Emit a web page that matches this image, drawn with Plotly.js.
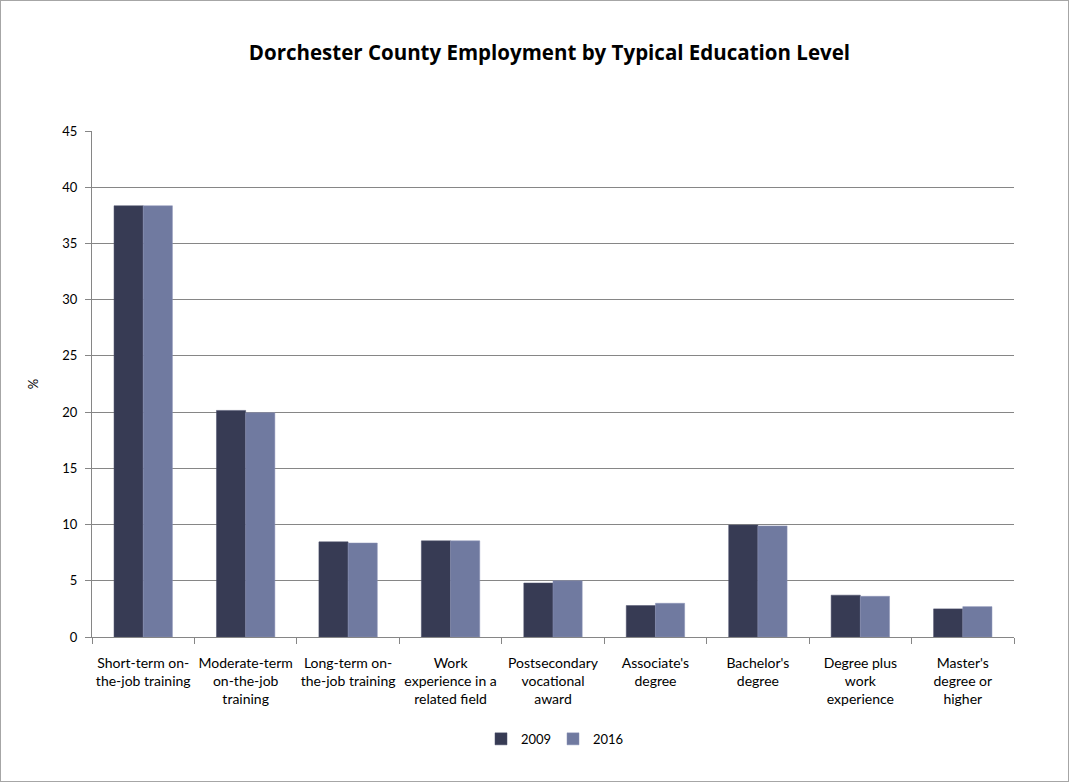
<!DOCTYPE html>
<html>
<head>
<meta charset="utf-8">
<script src="https://cdn.plot.ly/plotly-3.0.1.min.js"></script>
<style>
html,body{margin:0;padding:0;background:#fff;}
#chart{width:1069px;height:782px;box-sizing:border-box;border:1px solid #a6a6a6;}
</style>
</head>
<body>
<div id="chart"></div>
<script>
var categories = [
  "Short-term on-<br>the-job training",
  "Moderate-term<br>on-the-job<br>training",
  "Long-term on-<br>the-job training",
  "Work<br>experience in a<br>related field",
  "Postsecondary<br>vocational<br>award",
  "Associate's<br>degree",
  "Bachelor's<br>degree",
  "Degree plus<br>work<br>experience",
  "Master's<br>degree or<br>higher"
];
var values2009 = [38.35, 20.15, 8.46, 8.55, 4.8, 2.8, 9.95, 3.72, 2.5];
var values2016 = [38.35, 19.95, 8.36, 8.55, 5.0, 3.0, 9.88, 3.62, 2.7];
var yTicks = [0, 5, 10, 15, 20, 25, 30, 35, 40, 45];

var font = "Lato, 'Liberation Sans', sans-serif";

var traces = [
  {type: "bar", name: "2009", x: categories, y: values2009,
   marker: {color: "#373B54", line: {color: "#4a4f6b", width: 0.5}}},
  {type: "bar", name: "2016", x: categories, y: values2016,
   marker: {color: "#707AA0", line: {color: "#8a93b6", width: 0.5}}}
];

var layout = {
  width: 1067, height: 780,
  margin: {l: 91, r: 54, t: 130, b: 144},
  paper_bgcolor: "#ffffff",
  plot_bgcolor: "#ffffff",
  barmode: "group",
  bargap: 0.43,
  bargroupgap: 0,
  font: {family: font, size: 13, color: "#000"},
  title: {text: "<b>Dorchester County Employment by Typical Education Level</b>",
          font: {family: "'Open Sans', sans-serif", size: 20.5, color: "#000"},
          xref: "container", x: 0.514, xanchor: "center", y: 0.933, yanchor: "middle"},
  xaxis: {
    type: "category",
    showline: true, linecolor: "#868686", linewidth: 1,
    ticks: "outside", tickson: "boundaries", ticklen: 6, tickcolor: "#868686",
    ticklabelstandoff: 13,
    tickangle: 0,
    showgrid: false,
    tickfont: {family: font, size: 14, color: "#000"},
    automargin: false
  },
  yaxis: {
    range: [0, 45],
    tickvals: yTicks,
    ticktext: yTicks.map(String),
    showline: true, linecolor: "#868686", linewidth: 1,
    ticks: "outside", ticklen: 6, tickcolor: "#868686",
    ticklabelstandoff: 5,
    showgrid: true, gridcolor: "#868686", gridwidth: 1,
    zeroline: false,
    tickfont: {family: font, size: 13, color: "#000"},
    title: {text: "%", font: {family: font, size: 13, color: "#000"}, standoff: 20},
    automargin: false
  },
  showlegend: true,
  legend: {orientation: "h", x: 0.5, xanchor: "center",
           yref: "container", y: 0.054, yanchor: "middle",
           font: {family: font, size: 13, color: "#000"},
           itemwidth: 30, entrywidth: 27, entrywidthmode: "pixels",
           traceorder: "normal"}
};

Plotly.newPlot("chart", traces, layout, {displayModeBar: false, responsive: false});
</script>
</body>
</html>
